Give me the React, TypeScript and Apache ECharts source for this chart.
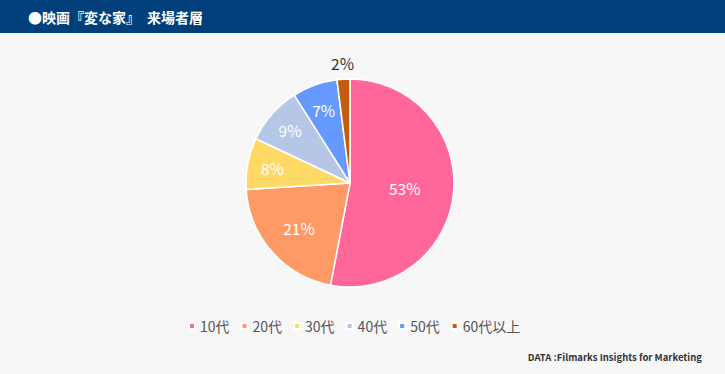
import React, { useEffect, useRef } from "react";
import * as echarts from "echarts";

const titleText = "●映画『変な家』　来場者層";
const sourceText = "DATA :Filmarks Insights for Marketing";
const categories = ["10代", "20代", "30代", "40代", "50代", "60代以上"];
const shares = [53, 21, 8, 9, 7, 2];
const colors = ["#ff6699", "#ff9966", "#ffd966", "#b4c7e7", "#6699ff", "#c55a11"];
// distance of each slice's label from the pie centre (px)
const labelRadius = [52, 65, 76, 77, 75, 117];
const labelColors = ["#fff", "#fff", "#fff", "#fff", "#fff", "#333"];

const FONT = "'Noto Sans CJK JP', 'Noto Sans', sans-serif";
const CX = 350;
const CY = 183;
const R = 104;

export default function App() {
  const ref = useRef<HTMLDivElement>(null);
  useEffect(() => {
    document.body.style.margin = "0";
    const chart = echarts.init(ref.current!, null, { renderer: "svg" });
    const mainSeries = {
      type: "pie",
      center: [CX, CY],
      radius: [0, R],
      startAngle: 90,
      clockwise: true,
      avoidLabelOverlap: false,
      label: { show: false },
      labelLine: { show: false },
      itemStyle: { borderColor: "#fff", borderWidth: 1.5 },
      data: categories.map((name, i) => ({
        name,
        value: shares[i],
        itemStyle: { color: colors[i] },
      })),
    };
    const labelSeries = categories.map((_, k) => ({
      type: "pie",
      center: [CX, CY],
      radius: [labelRadius[k] - 5, labelRadius[k] + 5],
      startAngle: 90,
      clockwise: true,
      silent: true,
      legendHoverLink: false,
      avoidLabelOverlap: false,
      labelLine: { show: false },
      itemStyle: { color: "rgba(0,0,0,0)", borderWidth: 0 },
      data: categories.map((name, i) => ({
        name,
        value: shares[i],
        label: {
          show: i === k,
          position: "inside",
          formatter: "{c}%",
          color: labelColors[i],
          fontSize: 15.5,
          fontFamily: FONT,
        },
      })),
    }));
    chart.setOption({
      animation: false,
      backgroundColor: "#f7f7f7",
      graphic: [
        {
          type: "rect",
          shape: { x: 0, y: 0, width: 725, height: 33 },
          style: { fill: "#003f7a" },
          z: 0,
        },
      ],
      title: [
        {
          text: titleText,
          left: 23,
          top: 5,
          textStyle: { color: "#fff", fontSize: 14, fontWeight: "bold", fontFamily: FONT },
        },
        {
          text: sourceText,
          right: 18,
          top: 347,
          textStyle: { color: "#333", fontSize: 9.5, fontWeight: "bold", fontFamily: FONT },
        },
      ],
      legend: {
        data: categories,
        left: 188,
        top: 319,
        padding: 0,
        icon: "rect",
        itemWidth: 6,
        itemHeight: 6,
        itemGap: 11,
        textStyle: { color: "#555", fontSize: 14, fontFamily: FONT },
      },
      series: [mainSeries, ...labelSeries],
    });
    return () => chart.dispose();
  }, []);
  return <div ref={ref} style={{ width: 725, height: 374 }} />;
}
